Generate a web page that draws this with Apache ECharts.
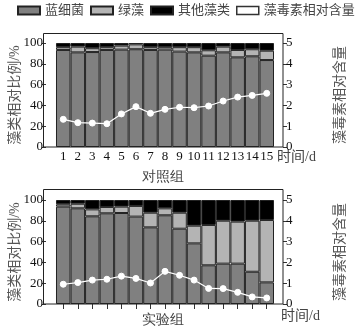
<!DOCTYPE html>
<html>
<head>
<meta charset="utf-8">
<script src="https://cdn.jsdelivr.net/npm/echarts@6/dist/echarts.min.js"></script>
<style>html,body{margin:0;padding:0;background:#fff}#c{width:355px;height:331px}</style>
</head>
<body>
<div id="c"></div>
<script>
// ---- data ----
var days = ['1','2','3','4','5','6','7','8','9','10','11','12','13','14','15'];
// 对照组 (control)
var ctrlCyano = [93.3, 91.0, 91.3, 93.3, 93.6, 94.0, 93.3, 93.6, 91.7, 91.0, 87.8, 91.0, 86.2, 87.2, 83.6];
var ctrlGreen = [2.7, 5.5, 3.7, 2.7, 3.9, 4.7, 2.7, 2.4, 4.3, 5.0, 5.2, 5.5, 7.1, 6.8, 9.0];
var ctrlOther = [4.0, 3.5, 5.0, 4.0, 2.5, 1.3, 4.0, 4.0, 4.0, 4.0, 7.0, 3.5, 6.7, 6.0, 7.4];
var ctrlToxin = [1.33, 1.17, 1.15, 1.12, 1.59, 1.94, 1.62, 1.81, 1.91, 1.89, 1.97, 2.21, 2.40, 2.48, 2.58];
// 实验组 (experiment)
var expCyano = [93.6, 92.0, 84.3, 87.2, 87.5, 84.0, 73.7, 85.3, 72.4, 58.3, 37.2, 38.8, 38.8, 31.0, 20.8];
var expGreen = [2.3, 4.4, 6.7, 6.1, 6.1, 10.3, 14.1, 6.7, 15.4, 17.0, 38.8, 41.3, 40.4, 49.1, 60.0];
var expOther = [4.1, 3.6, 9.0, 6.7, 6.4, 5.7, 12.2, 8.0, 12.2, 24.7, 24.0, 19.9, 20.8, 19.9, 19.2];
var expToxin = [0.95, 1.03, 1.15, 1.19, 1.34, 1.23, 1.01, 1.57, 1.38, 1.15, 0.75, 0.74, 0.56, 0.34, 0.29];
var pctTicks = {min: 0, max: 100, interval: 20};
var toxTicks = {min: 0, max: 5, interval: 1};
var names = {cyano: '蓝细菌', green: '绿藻', other: '其他藻类', toxin: '藻毒素相对含量'};

// ---- chart ----
var FONT = "'Liberation Serif','Noto Sans CJK SC',serif";
var chart = echarts.init(document.getElementById('c'), null, {renderer: 'canvas'});

function xAx(gi, showLabels, nameGap, padTop) {
  return {
    gridIndex: gi, type: 'category', data: days, boundaryGap: true,
    axisLine: {show: false},
    axisTick: {show: !showLabels, alignWithLabel: true, length: 5, lineStyle: {color: '#333', width: 1}},
    axisLabel: {show: showLabels, margin: 3, fontSize: 13, color: '#111', fontFamily: FONT, interval: 0},
    name: '时间/d', nameLocation: 'end', nameGap: nameGap, nameMoveOverlap: false,
    nameTextStyle: {verticalAlign: 'top', align: 'left', padding: [padTop, 0, 0, 0], fontSize: 14, color: '#444', fontFamily: FONT}
  };
}
function yLeft(gi) {
  return {
    gridIndex: gi, type: 'value', position: 'left', min: pctTicks.min, max: pctTicks.max, interval: pctTicks.interval,
    offset: 10,
    axisLine: {show: false},
    axisTick: {show: true, length: 4, lineStyle: {color: '#333'}},
    axisLabel: {margin: 3, fontSize: 13, color: '#111', fontFamily: FONT},
    splitLine: {show: false},
    name: '藻类相对比例/%', nameLocation: 'middle', nameRotate: 90, nameGap: 24, nameMoveOverlap: false,
    nameTextStyle: {fontSize: 14, color: '#555', fontFamily: FONT}
  };
}
function yRight(gi) {
  return {
    gridIndex: gi, type: 'value', position: 'right', min: toxTicks.min, max: toxTicks.max, interval: toxTicks.interval,
    offset: 9,
    axisLine: {show: false},
    axisTick: {show: true, length: 4, lineStyle: {color: '#333'}},
    axisLabel: {margin: 3, fontSize: 13, color: '#111', fontFamily: FONT},
    splitLine: {show: false},
    name: '藻毒素相对含量', nameLocation: 'middle', nameRotate: 90, nameGap: 50, nameMoveOverlap: false,
    nameTextStyle: {fontSize: 14, color: '#555', fontFamily: FONT}
  };
}
function barS(name, data, xi, yi, color) {
  return {
    name: name, type: 'bar', stack: 's' + xi, xAxisIndex: xi, yAxisIndex: yi, data: data,
    barCategoryGap: 0, barGap: 0,
    itemStyle: {color: color, borderColor: '#222', borderWidth: 1},
    emphasis: {disabled: true}
  };
}
function lineS(data, xi, yi) {
  return {
    name: names.toxin, type: 'line', xAxisIndex: xi, yAxisIndex: yi, data: data, z: 5,
    symbol: 'circle', symbolSize: 6,
    lineStyle: {color: '#fff', width: 1.2},
    itemStyle: {color: '#fff', borderColor: '#fff'},
    emphasis: {disabled: true}
  };
}

var option = {
  animation: false,
  backgroundColor: '#fff',
  textStyle: {fontFamily: FONT},
  legend: {
    left: 17, top: 4, padding: 0, itemWidth: 22, itemHeight: 8, itemGap: 6, icon: 'rect',
    width: 340,
    textStyle: {fontSize: 13, color: '#444', fontFamily: FONT},
    data: [
      {name: names.cyano},
      {name: names.green},
      {name: names.other},
      {name: names.toxin, icon: 'rect', itemStyle: {color: '#fff', borderColor: '#333', borderWidth: 1.5}}
    ]
  },
  grid: [
    {left: 53, right: 81, top: 43, height: 104},
    {left: 53, right: 81, top: 200, height: 104}
  ],
  xAxis: [xAx(0, true, 3, 3), xAx(1, false, 7, 5)],
  yAxis: [yLeft(0), yRight(0), yLeft(1), yRight(1)],
  graphic: [
    {type: 'rect', shape: {x: 43.5, y: 33.5, width: 239.5, height: 113.5}, style: {fill: null, stroke: '#222', lineWidth: 1}, z: 10, silent: true},
    {type: 'rect', shape: {x: 43.5, y: 189.5, width: 239.5, height: 114.5}, style: {fill: null, stroke: '#222', lineWidth: 1}, z: 10, silent: true},
    {type: 'text', x: 163, y: 170, style: {text: '对照组', textAlign: 'center', fontSize: 14, fill: '#444', font: '14px ' + FONT}, silent: true},
    {type: 'text', x: 163, y: 313, style: {text: '实验组', textAlign: 'center', fontSize: 14, fill: '#444', font: '14px ' + FONT}, silent: true}
  ],
  series: [
    barS(names.cyano, ctrlCyano, 0, 0, '#808080'),
    barS(names.green, ctrlGreen, 0, 0, '#b4b4b4'),
    barS(names.other, ctrlOther, 0, 0, '#000000'),
    lineS(ctrlToxin, 0, 1),
    barS(names.cyano, expCyano, 1, 2, '#808080'),
    barS(names.green, expGreen, 1, 2, '#b4b4b4'),
    barS(names.other, expOther, 1, 2, '#000000'),
    lineS(expToxin, 1, 3)
  ]
};
chart.setOption(option);
</script>
</body>
</html>
